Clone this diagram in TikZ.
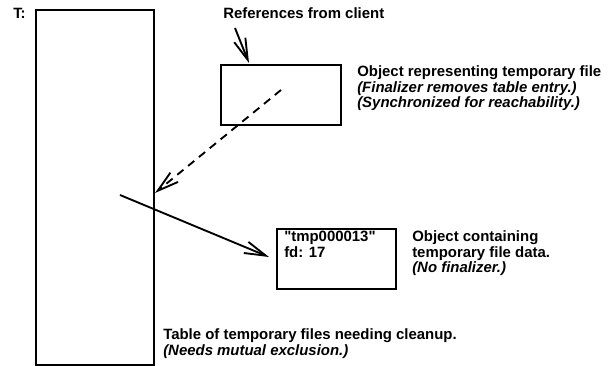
\documentclass[tikz,border=0pt]{standalone}
\usepackage{fontspec}
\setmainfont{Liberation Sans}
\usetikzlibrary{arrows.meta}
\newcommand{\sq}{\XeTeXglyph\numexpr\XeTeXcharglyph"22\relax}
\begin{document}
\begin{tikzpicture}[x=0.75pt,y=-0.75pt,
  box/.style={draw, line width=1.4pt, rectangle, inner sep=0pt, anchor=north west},
  lbl/.style={anchor=base west, inner sep=0pt, font=\fontsize{11.2}{13}\selectfont\bfseries},
  ilbl/.style={lbl, font=\fontsize{11.2}{13}\selectfont\bfseries\itshape},
  arr/.style={line width=1.4pt, -{Straight Barb[length=16pt,width=9pt,line width=1.4pt]}}]
\useasboundingbox (0,0) rectangle (611,366);
% boxes
\node[box, minimum width=88.5pt, minimum height=266.25pt] (T) at (35,9) {};
\node[box, minimum width=90pt, minimum height=45pt] (obj) at (220,64) {};
\node[box, minimum width=89.25pt, minimum height=45pt] (data) at (276,228) {};
% texts
\node[lbl] (tl) at (13,18.5) {T:};
\node[lbl] (ref) at (223,19) {References from client};
\node[lbl] (o1) at (357,77) {Object representing temporary file};
\node[ilbl] (o2) at (357,92.5) {(Finalizer removes table entry.)};
\node[ilbl] (o3) at (357,107.5) {(Synchronized for reachability.)};
\node[lbl] (d1) at (284,242) {\sq tmp000013\sq};
\node[lbl] (d2) at (284,258) {fd: 17};
\node[lbl] (c1) at (412,242) {Object containing};
\node[lbl] (c2) at (412,257.5) {temporary file data.};
\node[ilbl] (c3) at (412,273) {(No finalizer.)};
\node[lbl] (t1) at (163,340) {Table of temporary files needing cleanup.};
\node[ilbl] (t2) at (163,355.5) {(Needs mutual exclusion.)};
% connectors
\coordinate (cs) at (235,28);
\coordinate (ce) at (249,63);
\draw[arr] (cs) -- (ce);
\coordinate (ds) at (281,90);
\coordinate (de) at (155,193);
\draw[arr, dash pattern=on 6pt off 4.5pt] (ds) -- (de);
\coordinate (ss) at (120,195);
\coordinate (se) at (269,257);
\draw[arr] (ss) -- (se);
\end{tikzpicture}
\end{document}
